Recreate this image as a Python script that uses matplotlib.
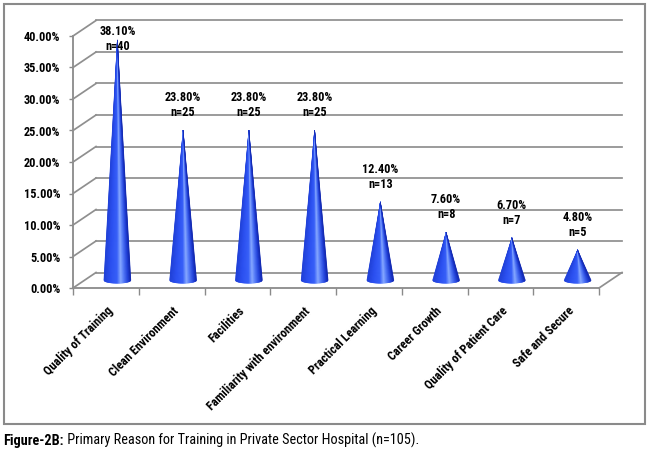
import matplotlib
matplotlib.use("Agg")
import matplotlib.pyplot as plt
import numpy as np
from matplotlib import font_manager as fm
from matplotlib import transforms as mtransforms
from matplotlib.collections import PolyCollection
from matplotlib.colors import LinearSegmentedColormap
from matplotlib.lines import Line2D
from matplotlib.patches import Rectangle
from matplotlib.ticker import FuncFormatter, FixedLocator

# ---------------- data ----------------
categories = ["Quality of Training", "Clean Environment", "Facilities",
              "Familiarity with environment", "Practical Learning",
              "Career Growth", "Quality of Patient Care", "Safe and Secure"]
percents = [38.10, 23.80, 23.80, 23.80, 12.40, 7.60, 6.70, 4.80]
counts = [40, 25, 25, 25, 13, 8, 7, 5]
y_ticks = [0, 5, 10, 15, 20, 25, 30, 35, 40]
caption_bold = "Figure-2B:"
caption_rest = " Primary Reason for Training in Private Sector Hospital (n=105)."

# ---------------- fonts ----------------
names = {f.name for f in fm.fontManager.ttflist}
def pick(*cands):
    for c in cands:
        if c in names:
            return c
    return "DejaVu Sans"
NARROW = pick("Liberation Sans Narrow", "Roboto Condensed", "Open Sans Condensed", "Roboto")
LBL = 8.8

W, H, DPI = 650, 455, 100
fig = plt.figure(figsize=(W / DPI, H / DPI), dpi=DPI)
fig.patch.set_facecolor("white")

ax = fig.add_axes([73 / W, 167 / H, 526 / W, 252 / H])
ax.set_xlim(-0.5, len(categories) - 0.5)
ax.set_ylim(0, 40)
ax.patch.set_visible(False)

DX, DY = 23.0, 15.5
back = mtransforms.offset_copy(ax.transData, fig=fig, x=DX, y=DY, units="dots")
mid = mtransforms.offset_copy(ax.transData, fig=fig, x=DX / 2, y=DY / 2, units="dots")

GRID = "#8f8f8f"
AXC = "#8a8a8a"

for s in ["top", "right"]:
    ax.spines[s].set_visible(False)
for s in ["left", "bottom"]:
    ax.spines[s].set_color(AXC)
    ax.spines[s].set_linewidth(1.3)

x0, x1 = -0.5, len(categories) - 0.5
for t in y_ticks:
    ax.plot([x0, x1], [t, t], color=GRID, lw=1.25, transform=back, clip_on=False, zorder=1)
    pf = ax.transData.transform((x0, t))
    pb = back.transform((x0, t))
    fig.add_artist(Line2D([pf[0], pb[0]], [pf[1], pb[1]], color=GRID, lw=1.25,
                          transform=mtransforms.IdentityTransform(), zorder=1))
pf = ax.transData.transform((x1, 0))
pb = back.transform((x1, 0))
fig.add_artist(Line2D([pf[0], pb[0]], [pf[1], pb[1]], color=GRID, lw=1.25,
                      transform=mtransforms.IdentityTransform(), zorder=1))

ax.yaxis.set_major_locator(FixedLocator(y_ticks))
ax.yaxis.set_major_formatter(FuncFormatter(lambda v, p: f"{v:.2f}%"))
ax.tick_params(axis="y", length=3, width=1.0, color=AXC, pad=6,
               labelsize=LBL, labelcolor="black")
for lab in ax.get_yticklabels():
    lab.set_fontfamily(NARROW)
    lab.set_fontweight("bold")

ax.set_xticks(np.arange(len(categories)))
ax.set_xticks(np.arange(len(categories) + 1) - 0.5, minor=True)
ax.tick_params(axis="x", which="minor", length=5, width=1.0, color=AXC)
ax.tick_params(axis="x", which="major", length=0, pad=12)
ax.set_xticklabels(categories, rotation=45, ha="right", rotation_mode="anchor",
                   fontsize=LBL, fontweight="bold", fontfamily=NARROW)
shift = mtransforms.ScaledTranslation(1 / DPI, 0, fig.dpi_scale_trans)
for lab in ax.get_xticklabels():
    lab.set_transform(lab.get_transform() + shift)

cmap = LinearSegmentedColormap.from_list("cone", [
    (0.00, "#1f3fd6"),
    (0.25, "#2a4ff0"),
    (0.50, "#375ff8"),
    (0.64, "#86a8ff"),
    (0.75, "#557bf8"),
    (0.90, "#2444dc"),
    (1.00, "#1228b0"),
])
half_w = 0.205
b = 3.0 / (252 / 40)
nseg = 48
for i, v in enumerate(percents):
    us = np.linspace(0, 1, nseg + 1)
    xs = i - half_w + 2 * half_w * us
    ys = -b * np.sqrt(np.clip(1 - ((xs - i) / half_w) ** 2, 0, 1))
    polys, cols = [], []
    for k in range(nseg):
        polys.append([(i, v), (xs[k], ys[k]), (xs[k + 1], ys[k + 1])])
        cols.append(cmap((us[k] + us[k + 1]) / 2))
    pc = PolyCollection(polys, facecolors=cols, edgecolors=cols, linewidths=0.4,
                        transform=mid, zorder=3, clip_on=False)
    ax.add_collection(pc)

fig.canvas.draw()
renderer = fig.canvas.get_renderer()
top_limit = H - 25
for i, (v, n) in enumerate(zip(percents, counts)):
    tip = mid.transform((i, v))
    txt = fig.text(tip[0], tip[1] + 11, f"{v:.2f}%\nn={n}",
                   transform=mtransforms.IdentityTransform(),
                   ha="center", va="bottom", fontsize=LBL, fontweight="bold",
                   fontfamily=NARROW, linespacing=1.25, zorder=5)
    bb = txt.get_window_extent(renderer)
    if bb.y1 > top_limit:
        txt.set_position((tip[0], tip[1] + 11 - (bb.y1 - top_limit)))

fig.add_artist(Rectangle((4 / W, (H - 424) / H), 641 / W, 420 / H,
                         transform=fig.transFigure, fill=False,
                         edgecolor="#8a8a8a", lw=1.5))
t1 = fig.text(3 / W, (H - 444.5) / H, caption_bold, fontsize=10.3,
              fontweight="bold", fontfamily=NARROW, va="baseline", ha="left")
fig.canvas.draw()
bb1 = t1.get_window_extent(renderer)
fig.text(bb1.x1, H - 444.5, caption_rest, fontsize=10.3, fontfamily=NARROW,
         va="baseline", ha="left", transform=mtransforms.IdentityTransform())

fig.savefig("out.png", dpi=DPI)
